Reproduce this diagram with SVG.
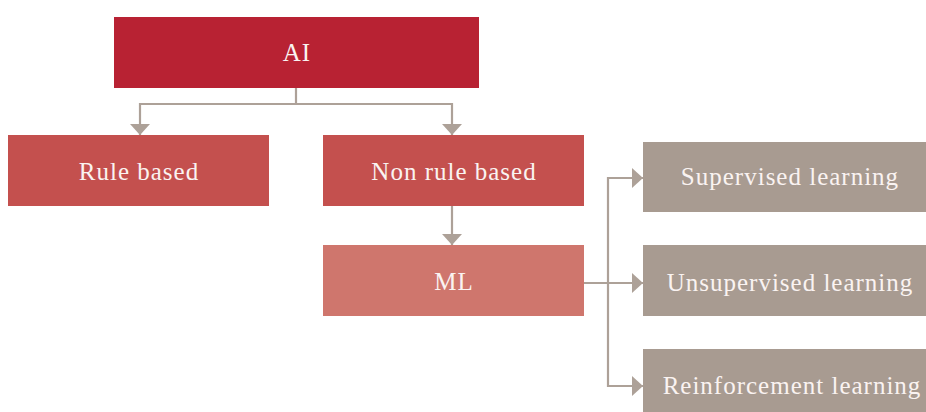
<svg xmlns="http://www.w3.org/2000/svg" width="926" height="412" viewBox="0 0 926 412">
<defs>
<style>
.lbl{font-family:"Liberation Serif","Times New Roman",serif;font-size:25px;letter-spacing:1px;fill:#FAF3F1;text-anchor:middle}
.conn{fill:none;stroke:#ADA198;stroke-width:2.2}
.ai{fill:#B82233}
.red{fill:#C4504E}
.ml{fill:#CF766D}
.gray{fill:#A89B91}
</style>
<marker id="arr" viewBox="0 0 10 10" refX="10" refY="5" markerWidth="10" markerHeight="10" markerUnits="userSpaceOnUse" orient="auto">
<path d="M0,0 L10,5 L0,10 Z" fill="#ADA198" transform="scale(1,1)"/>
</marker>
<marker id="arrw" viewBox="0 0 11 20" refX="11" refY="10" markerWidth="11" markerHeight="20" markerUnits="userSpaceOnUse" orient="auto">
<path d="M0,0 L11,10 L0,20 Z" fill="#ADA198"/>
</marker>
</defs>
<g id="connectors">
<path class="conn" d="M296,88 V104 M140,104 H452" />
<path class="conn" d="M140,103 V135" marker-end="url(#arrw)"/>
<path class="conn" d="M452,103 V135" marker-end="url(#arrw)"/>
<path class="conn" d="M452,206 V245" marker-end="url(#arrw)"/>
<path class="conn" d="M584,283 H608 M608,177 V387"/>
<path class="conn" d="M607,178 H643" marker-end="url(#arrw)"/>
<path class="conn" d="M584,283 H643" marker-end="url(#arrw)"/>
<path class="conn" d="M607,386 H643" marker-end="url(#arrw)"/>
</g>
<g id="node-ai">
<rect class="ai" x="114" y="17" width="365" height="71"/>
<text class="lbl" x="297" y="61">AI</text>
</g>
<g id="node-rule-based">
<rect class="red" x="8" y="135" width="261" height="71"/>
<text class="lbl" x="139" y="180">Rule based</text>
</g>
<g id="node-non-rule-based">
<rect class="red" x="323" y="135" width="261" height="71"/>
<text class="lbl" x="454" y="180">Non rule based</text>
</g>
<g id="node-ml">
<rect class="ml" x="323" y="245" width="261" height="71"/>
<text class="lbl" x="454" y="290">ML</text>
</g>
<g id="node-supervised">
<rect class="gray" x="643" y="142" width="294" height="70"/>
<text class="lbl" x="790" y="185">Supervised learning</text>
</g>
<g id="node-unsupervised">
<rect class="gray" x="643" y="245" width="294" height="71"/>
<text class="lbl" x="790" y="291">Unsupervised learning</text>
</g>
<g id="node-reinforcement">
<rect class="gray" x="643" y="349" width="294" height="71"/>
<text class="lbl" x="792" y="394">Reinforcement learning</text>
</g>
</svg>
